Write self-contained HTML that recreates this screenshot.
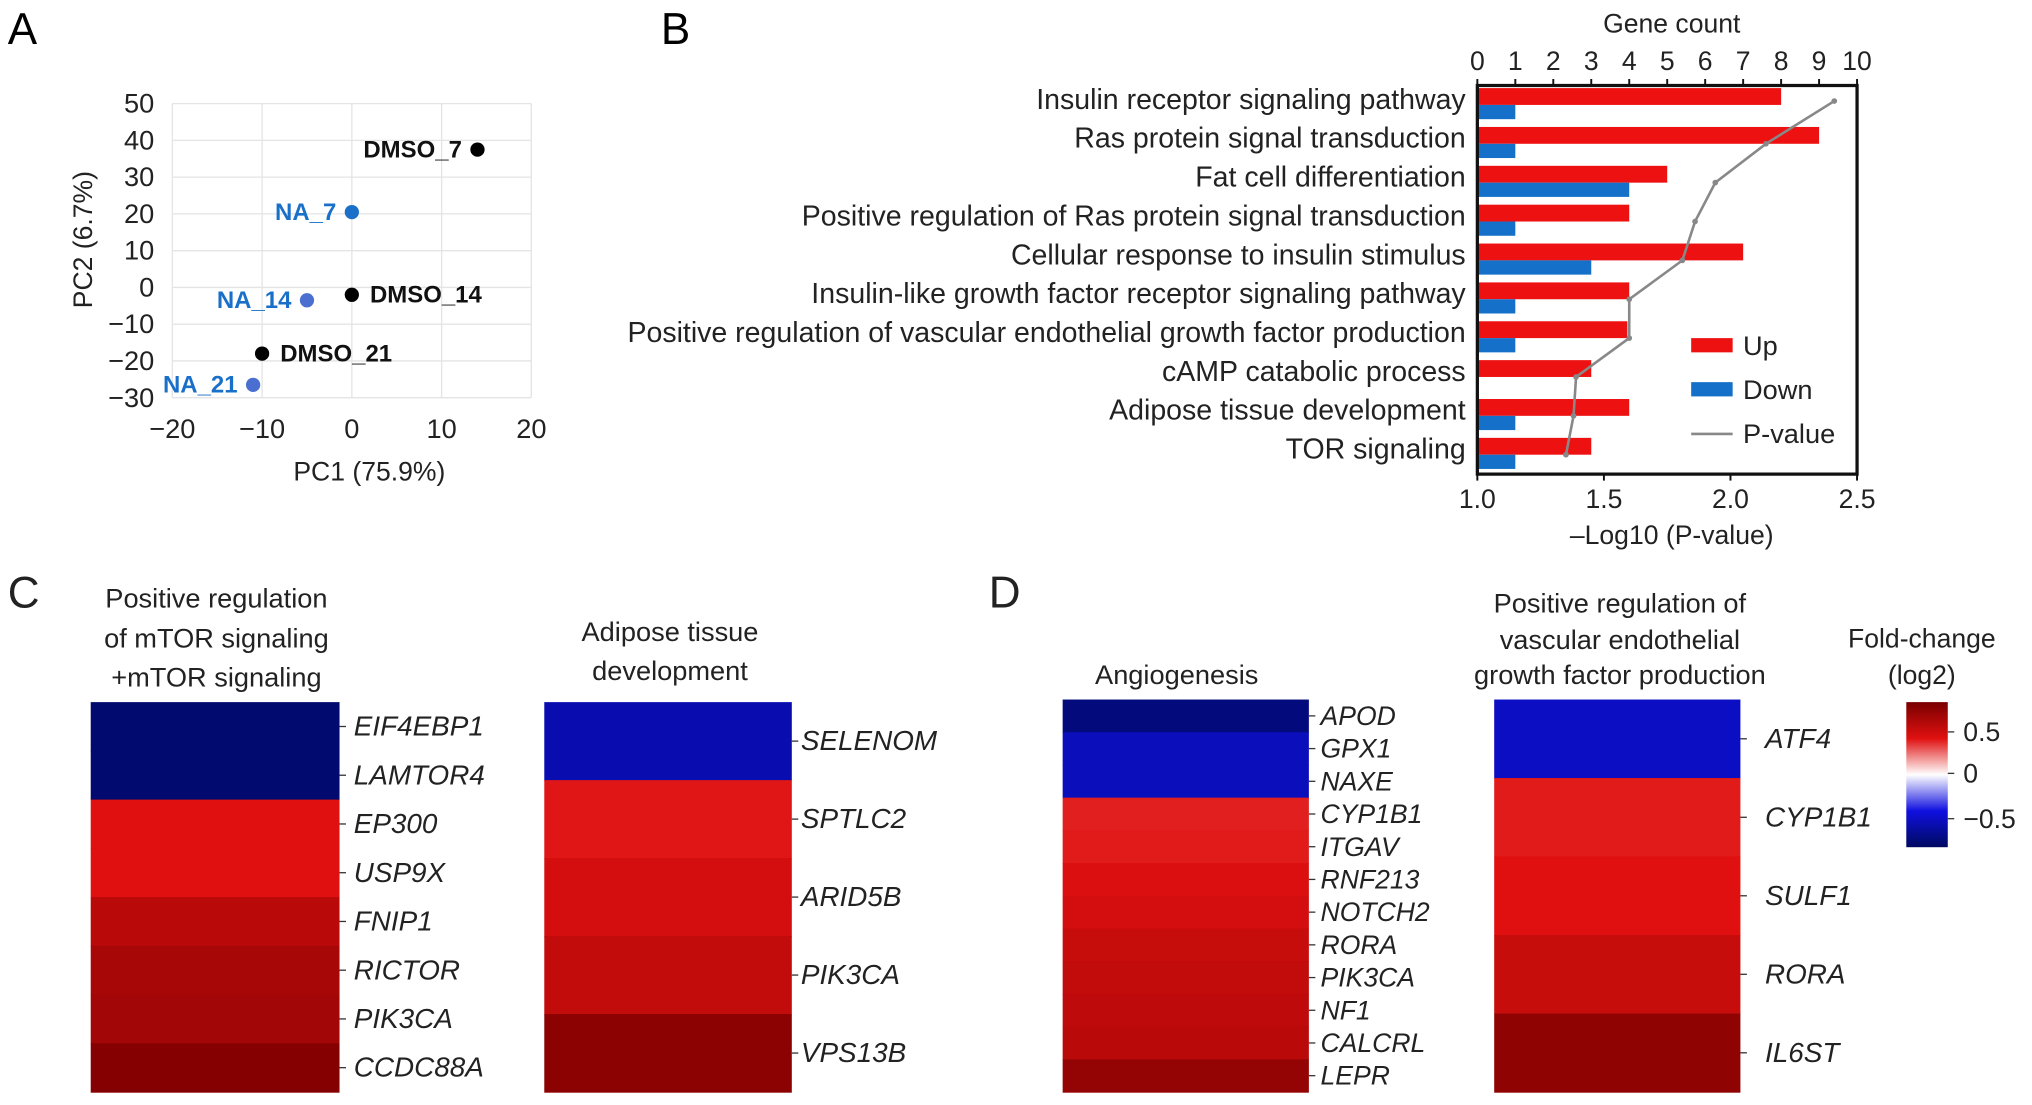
<!DOCTYPE html>
<html><head><meta charset="utf-8"><style>
html,body{margin:0;padding:0;background:#fff;}
svg{display:block;font-family:"Liberation Sans",Arial,sans-serif;}
</style></head><body>
<svg id="fig" width="2032" height="1105" viewBox="0 0 1568 853" preserveAspectRatio="none">
<defs><linearGradient id="cb" x1="0" y1="0" x2="0" y2="1">
<stop offset="0" stop-color="#7a0000"/><stop offset="0.25" stop-color="#e01010"/><stop offset="0.5" stop-color="#ffffff"/><stop offset="0.75" stop-color="#1010e0"/><stop offset="1" stop-color="#000a60"/></linearGradient></defs>
<g id="A"></g>
<g id="B"></g>
<g id="C"></g>
</svg>
<script>
const NS='http://www.w3.org/2000/svg';
// Panel A data
const pcaLabels=['DMSO_7','NA_7','NA_14','DMSO_14','DMSO_21','NA_21'];
const pcaX=[14,0,-5,0,-10,-11];
const pcaY=[37.5,20.5,-3.5,-2,-18,-26.5];
const pcaGroup=['DMSO','NA','NA','DMSO','DMSO','NA'];
const pcaXTicks=[-20,-10,0,10,20];
const pcaYTicks=[50,40,30,20,10,0,-10,-20,-30];
// Panel B data
const goTerms=['Insulin receptor signaling pathway','Ras protein signal transduction','Fat cell differentiation','Positive regulation of Ras protein signal transduction','Cellular response to insulin stimulus','Insulin-like growth factor receptor signaling pathway','Positive regulation of vascular endothelial growth factor production','cAMP catabolic process','Adipose tissue development','TOR signaling'];
const upCounts=[8,9,5,4,7,4,3.95,3,4,3];
const downCounts=[1,1,4,1,3,1,1,0,1,1];
const pValues=[2.41,2.14,1.94,1.86,1.81,1.6,1.6,1.39,1.38,1.35];
const countTicks=[0,1,2,3,4,5,6,7,8,9,10];
const pTicks=[1.0,1.5,2.0,2.5];
// Heatmaps
const hm1Genes=['EIF4EBP1','LAMTOR4','EP300','USP9X','FNIP1','RICTOR','PIK3CA','CCDC88A'];
const hm1Vals=[-0.85,-0.85,0.45,0.45,0.62,0.7,0.72,0.85];
const hm2Genes=['SELENOM','SPTLC2','ARID5B','PIK3CA','VPS13B'];
const hm2Vals=[-0.62,0.44,0.5,0.58,0.82];
const hm3Genes=['APOD','GPX1','NAXE','CYP1B1','ITGAV','RNF213','NOTCH2','RORA','PIK3CA','NF1','CALCRL','LEPR'];
const hm3Vals=[-0.8,-0.58,-0.58,0.42,0.43,0.47,0.5,0.56,0.58,0.6,0.62,0.78];
const hm4Genes=['ATF4','CYP1B1','SULF1','RORA','IL6ST'];
const hm4Vals=[-0.55,0.43,0.45,0.56,0.8];

function el(parent,tag,attrs,text){const e=document.createElementNS(NS,tag);for(const k in attrs)e.setAttribute(k,attrs[k]);if(text!==undefined)e.textContent=text;parent.appendChild(e);return e;}
const A=document.getElementById('A'),B=document.getElementById('B'),C=document.getElementById('C');

// ---- Panel A
let t=el(A,'text',{x:6,y:34,'font-size':34},'A');


const ax=v=>133+(v+20)*(277/40), ay=v=>80+(50-v)*(227/80);
pcaXTicks.forEach(v=>{let l=el(A,'line',{x1:ax(v),x2:ax(v),y1:80,y2:307,stroke:'#e4e4e4','stroke-width':1});


let tt=el(A,'text',{x:ax(v),y:338,'font-size':21,'text-anchor':'middle',fill:'#222'},v<0?'\u2212'+(-v):v);

});
pcaYTicks.forEach(v=>{let l=el(A,'line',{x1:133,x2:410,y1:ay(v),y2:ay(v),stroke:'#e4e4e4','stroke-width':1});


let tt=el(A,'text',{x:119,y:ay(v)+7,'font-size':21,'text-anchor':'end',fill:'#222'},v<0?'\u2212'+(-v):v);

});
t=el(A,'text',{x:285,y:371,'font-size':20.5,'text-anchor':'middle',fill:'#222'},'PC1 (75.9%)');


t=el(A,'text',{x:71,y:185,'font-size':20.5,'text-anchor':'middle',fill:'#222',transform:'rotate(-90 71 185)'},'PC2 (6.7%)');


pcaLabels.forEach((lab,i)=>{const col=pcaGroup[i]==='DMSO'?'#000':(i===1?'#1a70c8':'#4a6fd0');const tc=pcaGroup[i]==='DMSO'?'#111':'#1a70c8';
let c=el(A,'circle',{cx:ax(pcaX[i]),cy:ay(pcaY[i]),r:5.5,fill:col});


const left=(i===0||i===1||i===2||i===5);
let tx=left?ax(pcaX[i])-12:ax(pcaX[i])+14;
let tt=el(A,'text',{x:tx,y:ay(pcaY[i])+6,'font-size':18.5,'font-weight':'bold','text-anchor':left?'end':'start',fill:tc},lab);

});

// ---- Panel B
t=el(B,'text',{x:510,y:34,'font-size':34},'B');


const bL=1140,bR=1433,bT=66,bBot=366,rowH=(bBot-bT)/goTerms.length;
const cx=v=>bL+v*(bR-bL)/10, px=v=>bL+(v-1)*(bR-bL)/1.5;
goTerms.forEach((g,i)=>{const y0=bT+i*rowH;
let r=el(B,'rect',{x:bL,y:y0+2,width:cx(upCounts[i])-bL,height:13,fill:'#ee1111'});


r=el(B,'rect',{x:bL,y:y0+15,width:cx(downCounts[i])-bL,height:11,fill:'#1470c8'});


let tt=el(B,'text',{x:1131,y:y0+18,'font-size':22,'text-anchor':'end',fill:'#222'},g);

});
let pts=pValues.map((v,i)=>px(v)+','+(bT+i*rowH+rowH/2+(i===0?-3:0))).join(' ');
let pl=el(B,'polyline',{points:pts,fill:'none',stroke:'#888','stroke-width':2});


pValues.forEach((v,i)=>{let c=el(B,'circle',{cx:px(v),cy:bT+i*rowH+rowH/2+(i===0?-3:0),r:2.2,fill:'#888'});

});
let fr=el(B,'rect',{x:bL,y:bT,width:bR-bL,height:bBot-bT,fill:'none',stroke:'#111','stroke-width':2.5});


countTicks.forEach(v=>{let l=el(B,'line',{x1:cx(v),x2:cx(v),y1:bT,y2:bT-5,stroke:'#111','stroke-width':1.5});


let tt=el(B,'text',{x:cx(v),y:54,'font-size':20.5,'text-anchor':'middle',fill:'#222'},v);

});
pTicks.forEach(v=>{let l=el(B,'line',{x1:px(v),x2:px(v),y1:bBot,y2:bBot+5,stroke:'#111','stroke-width':1.5});


let tt=el(B,'text',{x:px(v),y:392,'font-size':20.5,'text-anchor':'middle',fill:'#222'},v.toFixed(1));

});
t=el(B,'text',{x:1290,y:25,'font-size':20.5,'text-anchor':'middle',fill:'#222'},'Gene count');


t=el(B,'text',{x:1290,y:420,'font-size':20.5,'text-anchor':'middle',fill:'#222'},'\u2013Log10 (P-value)');


[['Up','#ee1111',267],['Down','#1470c8',301]].forEach(d=>{let r=el(B,'rect',{x:1305,y:d[2]-6,width:32,height:11,fill:d[1]});


let tt=el(B,'text',{x:1345,y:d[2]+7,'font-size':21,fill:'#222'},d[0]);

});
let ll=el(B,'line',{x1:1305,x2:1337,y1:335,y2:335,stroke:'#888','stroke-width':2});


t=el(B,'text',{x:1345,y:342,'font-size':21,fill:'#222'},'P-value');



// ---- Heatmaps
function color(v){v=Math.max(-1,Math.min(1,v/0.9));let r,g,b;
if(v>=0){if(v<0.5){const f=v/0.5;r=255-(255-224)*f;g=255-(255-16)*f;b=255-(255-16)*f;}else{const f=(v-0.5)/0.5;r=224-(224-122)*f;g=16-16*f;b=16-16*f;}}
else{const a=-v;if(a<0.5){const f=a/0.5;r=255-255*f*0.94;g=255-(255-16)*f;b=255-(255-224)*f;}else{const f=(a-0.5)/0.5;r=16-16*f;g=16-6*f;b=224-(224-96)*f;}}
return `rgb(${r|0},${g|0},${b|0})`;}
function heat(genes,vals,x0,x1,y0,y1,lx,name){const h=(y1-y0)/genes.length;
genes.forEach((g,i)=>{let r=el(C,'rect',{x:x0,y:y0+i*h,width:x1-x0,height:h+0.5,fill:color(vals[i])});


let l=el(C,'line',{x1:x1,x2:x1+5,y1:y0+i*h+h/2,y2:y0+i*h+h/2,stroke:'#333','stroke-width':1});


let tt=el(C,'text',{x:lx,y:y0+i*h+h/2+7,'font-size':h<30?20.5:21.5,'font-style':'italic',fill:'#222'},g);

});}
heat(hm1Genes,hm1Vals,70,262,542,843,273,'mtor');
heat(hm2Genes,hm2Vals,420,611,542,843,618,'adipose');
heat(hm3Genes,hm3Vals,820,1010,540,843,1019,'angio');
heat(hm4Genes,hm4Vals,1153,1343,540,843,1362,'vegf');
function txt(x,y,s,size,name,anchor){let tt=el(C,'text',{x:x,y:y,'font-size':size,'text-anchor':anchor||'middle',fill:'#222'},s);

}
txt(6,469,'C',34,'panel-c-label','start');
txt(763,469,'D',34,'panel-d-label','start');
txt(167,469,'Positive regulation',21,'heatmap-title');
txt(167,500,'of mTOR signaling',21,'heatmap-title');
txt(167,530,'+mTOR signaling',21,'heatmap-title');
txt(517,495,'Adipose tissue',21,'heatmap-title');
txt(517,525,'development',21,'heatmap-title');
txt(908,528,'Angiogenesis',21,'heatmap-title');
txt(1250,473,'Positive regulation of',21,'heatmap-title');
txt(1250,501,'vascular endothelial',21,'heatmap-title');
txt(1250,528,'growth factor production',21,'heatmap-title');
txt(1483,500,'Fold-change',20.5,'colorbar-title');
txt(1483,528,'(log2)',20.5,'colorbar-title');
let cb=el(C,'rect',{x:1471,y:542,width:32,height:112,fill:'url(#cb)'});


[['0.5',565],['0',597],['\u22120.5',632]].forEach(d=>{let l=el(C,'line',{x1:1503,x2:1508,y1:d[1],y2:d[1],stroke:'#333'});


txt(1515,d[1]+7,d[0],20.5,'colorbar-tick-label','start');});
</script>
</body></html>
